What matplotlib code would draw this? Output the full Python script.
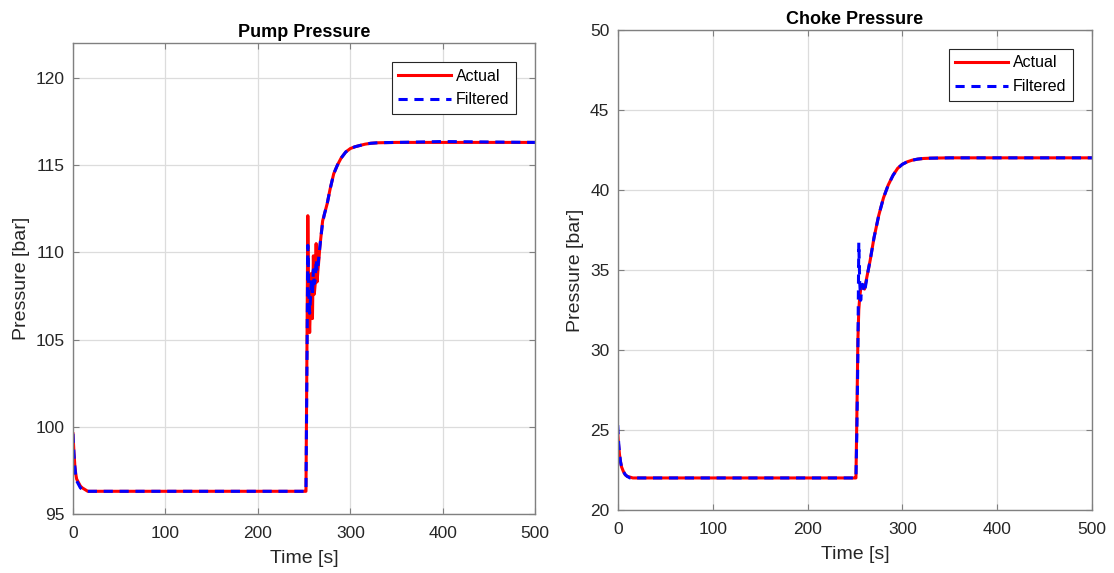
import matplotlib.pyplot as plt

plt.rcParams["font.family"] = ["Liberation Sans", "DejaVu Sans"]

# Pump pressure (bar) vs time (s)
pump_t = [0, 1, 2, 3, 4, 6, 8, 10, 13, 16, 20, 30, 100, 200, 250, 252, 253, 254,
          255, 256, 257, 258, 259, 260, 261, 262, 263, 264, 265, 266, 267, 268,
          270, 272, 275, 278, 282, 286, 290, 295, 300, 305, 310, 316, 322, 330,
          350, 400, 500]
pump_actual = [99.6, 98.6, 97.8, 97.3, 97.0, 96.8, 96.6, 96.5, 96.4, 96.3, 96.3,
               96.3, 96.3, 96.3, 96.3, 96.3, 104.0, 112.1, 107.0, 105.4, 107.5,
               108.8, 106.2, 109.8, 107.6, 108.2, 110.5, 108.3, 109.0, 109.6,
               110.3, 110.8, 111.8, 112.2, 112.8, 113.6, 114.5, 115.0, 115.4,
               115.75, 115.95, 116.05, 116.12, 116.2, 116.25, 116.28, 116.3,
               116.3, 116.3]
pump_filtered = [99.6, 98.5, 97.7, 97.2, 96.9, 96.7, 96.5, 96.4, 96.35, 96.3, 96.3,
                 96.3, 96.3, 96.3, 96.3, 96.3, 103.0, 110.4, 107.8, 106.5, 107.5,
                 108.5, 107.5, 109.0, 108.2, 108.4, 109.6, 108.9, 109.2, 109.8,
                 110.3, 110.8, 111.7, 112.2, 112.8, 113.6, 114.5, 115.0, 115.4,
                 115.75, 115.95, 116.05, 116.12, 116.2, 116.25, 116.28, 116.3,
                 116.35, 116.3]

# Choke pressure (bar) vs time (s)
choke_t = [0, 1, 2, 3, 4, 6, 8, 10, 13, 16, 20, 30, 100, 200, 250, 251, 252, 253,
           254, 255, 256, 257, 258, 260, 262, 264, 266, 268, 270, 275, 280, 285,
           290, 295, 300, 305, 310, 316, 322, 330, 350, 400, 500]
choke_actual = [24.8, 24.0, 23.4, 23.0, 22.7, 22.4, 22.2, 22.1, 22.05, 22.0, 22.0,
                22.0, 22.0, 22.0, 22.0, 22.0, 26.0, 30.5, 32.5, 33.3, 33.8, 34.0,
                33.9, 33.8, 34.4, 35.0, 35.6, 36.3, 37.0, 38.4, 39.5, 40.3,
                40.9, 41.35, 41.6, 41.75, 41.85, 41.92, 41.96, 41.98, 42.0, 42.0,
                42.0]
choke_filtered = [25.3, 24.2, 23.5, 23.0, 22.7, 22.4, 22.2, 22.1, 22.0, 22.0, 22.0,
                  22.0, 22.0, 22.0, 22.0, 22.0, 25.0, 29.5, 36.7, 34.2, 33.1, 33.8,
                  34.1, 33.6, 34.3, 35.0, 35.6, 36.3, 37.0, 38.4, 39.5, 40.3,
                  40.9, 41.35, 41.6, 41.75, 41.85, 41.92, 41.96, 41.98, 42.0, 42.0,
                  42.0]

panels = [
    ("Pump Pressure", pump_t, pump_actual, pump_filtered, (95, 122),
     [95, 100, 105, 110, 115, 120], [0.0655, 0.103, 0.415, 0.822]),
    ("Choke Pressure", choke_t, choke_actual, choke_filtered, (20, 50),
     [20, 25, 30, 35, 40, 45, 50], [0.5545, 0.11, 0.426, 0.838]),
]

fig = plt.figure(figsize=(11.14, 5.73), dpi=100)

for title, t, actual, filtered, ylim, yticks, rect in panels:
    ax = fig.add_axes(rect)
    ax.plot(t, actual, color="red", linewidth=2.2, label="Actual")
    ax.plot(t, filtered, color="blue", linewidth=2.2, linestyle=(0, (3, 2.2)),
            label="Filtered")
    ax.set_xlim(0, 500)
    ax.set_ylim(*ylim)
    ax.set_xticks([0, 100, 200, 300, 400, 500])
    ax.set_yticks(yticks)
    ax.grid(True, color="#dcdcdc", linewidth=0.9)
    ax.set_axisbelow(True)
    ax.tick_params(direction="in", top=True, right=True, labelsize=12.5,
                   colors="#808080", labelcolor="#262626", length=4, width=0.8)
    ax.tick_params(axis="x", pad=9)
    ax.tick_params(axis="y", pad=6)
    for s in ax.spines.values():
        s.set_color("#808080")
        s.set_linewidth(1.0)
    ax.set_title(title, fontsize=13, fontweight="bold", pad=4)
    ax.set_xlabel("Time [s]", fontsize=14, color="#262626", labelpad=6)
    ax.set_ylabel("Pressure [bar]", fontsize=14, color="#262626", labelpad=4)
    leg = ax.legend(loc="upper right", fontsize=11.5, fancybox=False,
                    framealpha=1, edgecolor="#262626", handlelength=3.3,
                    handletextpad=0.35, borderaxespad=1.2, borderpad=0.4,
                    labelspacing=0.55)
    leg.get_frame().set_linewidth(0.8)

fig.savefig("out.png", dpi=100)
